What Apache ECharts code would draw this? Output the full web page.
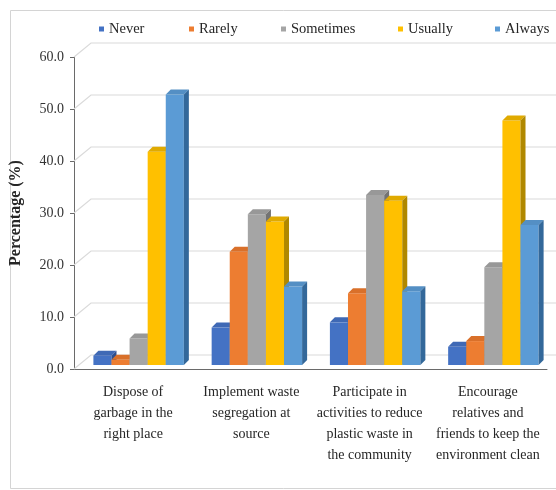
<!DOCTYPE html>
<html>
<head>
<meta charset="utf-8">
<script src="https://cdn.jsdelivr.net/npm/echarts@6/dist/echarts.min.js"></script>
<style>
  html, body { margin: 0; padding: 0; background: #ffffff; }
  #chart { width: 556px; height: 490px; }
</style>
</head>
<body>
<div id="chart"></div>
<script>
// Survey responses per behaviour (percentage of respondents)
const categories = [
  'Dispose of\ngarbage in the\nright place',
  'Implement waste\nsegregation at\nsource',
  'Participate in\nactivities to reduce\nplastic waste in\nthe community',
  'Encourage\nrelatives and\nfriends to keep the\nenvironment clean'
];
const seriesNames = ['Never', 'Rarely', 'Sometimes', 'Usually', 'Always'];
const never     = [1.8, 7.2, 8.2, 3.5];
const rarely    = [1.0, 21.8, 13.8, 4.6];
const sometimes = [5.1, 29.0, 32.7, 18.8];
const usually   = [41.0, 27.6, 31.6, 47.0];
const always    = [52.0, 15.1, 14.2, 26.9];
const yTicks    = [0, 10, 20, 30, 40, 50, 60];

const seriesValues = [never, rarely, sometimes, usually, always];

// Face colours for the pseudo-3D columns: front, top, side
const palette = [
  { front: '#4472C4', top: '#3f69b5', side: '#2c4f8f' },
  { front: '#ED7D31', top: '#d9702a', side: '#a9561f' },
  { front: '#A5A5A5', top: '#989898', side: '#737373' },
  { front: '#FFC000', top: '#e0aa00', side: '#b08800' },
  { front: '#5B9BD5', top: '#548fc4', side: '#33689a' }
];

const FONT = '"Liberation Serif", "Times New Roman", serif';
const BAR_FRAC = 0.153;   // width of one column as a fraction of the category band
const DEPTH = 5;          // oblique depth of each column
const SHIFT_X = 5.5;      // columns sit slightly behind the front axis plane
const SHIFT_Y = -4;
const WALL_DX = 17;       // back wall offset from the front axis
const WALL_DY = -14;

function barRenderer(k) {
  return function (params, api) {
    const cat = api.value(0);
    const v = api.value(1);
    const base = api.coord([cat, 0]);
    const topPt = api.coord([cat, v]);
    const band = api.size([1, 0])[0];
    const w = band * BAR_FRAC;
    const groupW = w * seriesNames.length;
    const x = base[0] - groupW / 2 + k * w + SHIFT_X;
    const yB = base[1] + SHIFT_Y;
    const yT = topPt[1] + SHIFT_Y;
    const c = palette[k];
    return {
      type: 'group',
      children: [
        { type: 'rect', shape: { x: x, y: yT, width: w, height: yB - yT },
          style: { fill: c.front } },
        { type: 'polygon', shape: { points: [[x, yT], [x + w, yT], [x + w + DEPTH, yT - DEPTH], [x + DEPTH, yT - DEPTH]] },
          style: { fill: c.top } },
        { type: 'polygon', shape: { points: [[x + w, yT], [x + w + DEPTH, yT - DEPTH], [x + w + DEPTH, yB - DEPTH], [x + w, yB]] },
          style: { fill: c.side } }
      ]
    };
  };
}

// Back wall gridlines with the short diagonal on the side wall
function wallRenderer(params, api) {
  const v = api.value(1);
  const p = api.coord([0, v]);
  const x0 = params.coordSys.x;
  const y = p[1];
  const xEnd = params.coordSys.x + params.coordSys.width + 20;
  return {
    type: 'polyline',
    shape: { points: [[x0, y], [x0 + WALL_DX, y + WALL_DY], [xEnd, y + WALL_DY]] },
    style: { stroke: '#dadada', lineWidth: 1.2, fill: null },
    silent: true
  };
}

const legendLeft = [99, 189, 281, 398, 495];

const chart = echarts.init(document.getElementById('chart'), null, { renderer: 'canvas' });

const series = [{
  type: 'custom',
  name: 'wall',
  renderItem: wallRenderer,
  data: yTicks.map(v => [0, v]),
  encode: { x: 0, y: 1 },
  silent: true,
  z: 1
}].concat(seriesNames.map((name, k) => ({
  type: 'custom',
  name: name,
  renderItem: barRenderer(k),
  data: seriesValues[k].map((v, i) => [i, v]),
  encode: { x: 0, y: 1 },
  itemStyle: { color: palette[k].front },
  z: 2 + k
})));

chart.setOption({
  animation: false,
  backgroundColor: '#ffffff',
  graphic: [{
    type: 'rect',
    shape: { x: 10.5, y: 10.5, width: 600, height: 478 },
    style: { fill: null, stroke: '#d4d4d4', lineWidth: 1 },
    silent: true
  }],
  legend: seriesNames.map((name, k) => ({
    data: [name],
    left: legendLeft[k],
    top: 21,
    padding: 0,
    icon: 'rect',
    itemWidth: 5,
    itemHeight: 5,
    selectedMode: false,
    textStyle: { fontFamily: FONT, fontSize: 14.5, color: '#262626', lineHeight: 16 }
  })),
  grid: { left: 71, right: 9, top: 57, bottom: 121 },
  xAxis: {
    type: 'category',
    data: categories,
    boundaryGap: true,
    axisLine: { lineStyle: { color: '#6a6a6a', width: 1 } },
    axisTick: { alignWithLabel: true, length: 3, lineStyle: { color: '#6a6a6a' } },
    axisLabel: {
      interval: 0,
      margin: 13,
      fontFamily: FONT,
      fontSize: 14,
      lineHeight: 21,
      color: '#262626',
      align: 'center'
    }
  },
  yAxis: {
    type: 'value',
    min: 0,
    max: 60,
    interval: 10,
    name: 'Percentage (%)',
    nameLocation: 'middle',
    nameRotate: 90,
    nameGap: 50,
    nameTextStyle: { fontFamily: FONT, fontSize: 16, fontWeight: 'bold', color: '#262626' },
    axisLine: { show: true, lineStyle: { color: '#6a6a6a', width: 1 } },
    axisTick: { show: true, length: 4, lineStyle: { color: '#6a6a6a' } },
    splitLine: { show: false },
    axisLabel: {
      margin: 10,
      fontFamily: FONT,
      fontSize: 14,
      color: '#333333',
      formatter: v => v.toFixed(1)
    }
  },
  series: series
});
</script>
</body>
</html>
